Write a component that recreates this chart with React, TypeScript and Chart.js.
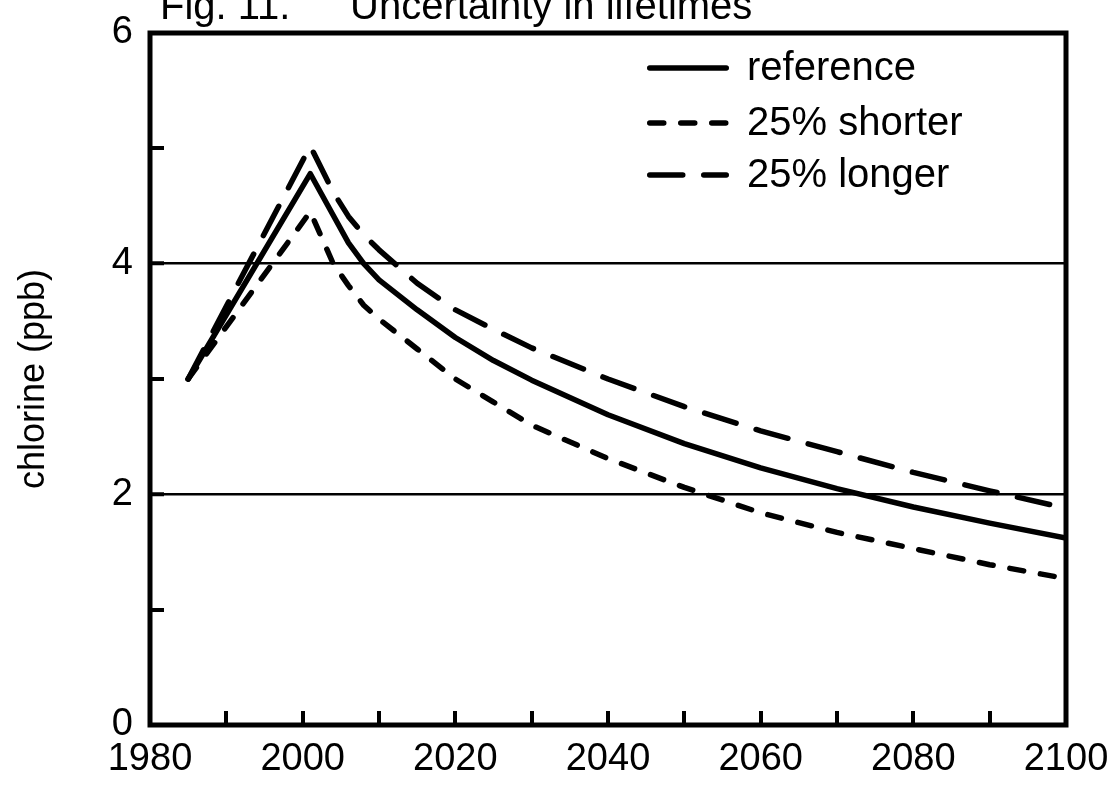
import React, { useEffect, useRef } from 'react';
import { Chart, registerables } from 'chart.js';

Chart.register(...registerables);

// ---- data ----
const YEARS = [1985, 2001, 2004, 2006, 2008, 2010, 2015, 2020, 2025, 2030, 2040, 2050, 2060, 2070, 2080, 2090, 2100];
const REFERENCE = [3.0, 4.78, 4.42, 4.18, 4.0, 3.86, 3.6, 3.36, 3.16, 2.99, 2.69, 2.44, 2.23, 2.05, 1.89, 1.75, 1.62];
const SHORTER = [3.0, 4.45, 4.0, 3.81, 3.64, 3.52, 3.26, 3.0, 2.8, 2.6, 2.31, 2.06, 1.84, 1.67, 1.53, 1.39, 1.27];
const LONGER = [3.0, 5.02, 4.62, 4.41, 4.25, 4.12, 3.83, 3.6, 3.43, 3.27, 3.0, 2.76, 2.55, 2.37, 2.19, 2.03, 1.88];
const SERIES_NAMES = ['reference', '25% shorter', '25% longer'];
const TITLE_PARTS = ['Fig. 11.', 'Uncertainty in lifetimes'];
const Y_TITLE = 'chlorine (ppb)';
const X_MIN = 1980;
const X_MAX = 2100;
const X_STEP = 10;
const X_LABEL_EVERY = 20;
const Y_MIN = 0;
const Y_MAX = 6;
const Y_STEP = 1;
const Y_LABEL_EVERY = 2;
const GRID_VALUES = [2, 4];

const FONT = '"Liberation Sans", Arial, Helvetica, sans-serif';

const toPoints = (vals: number[]) => YEARS.map((x, i) => ({ x, y: vals[i] }));

const zeroPadding = (s: any) => {
  s.paddingLeft = 0;
  s.paddingRight = 0;
  s.paddingTop = 0;
  s.paddingBottom = 0;
};

const framePlugin = {
  id: 'frame',
  afterDatasetsDraw(chart: any) {
    const { ctx, chartArea: a } = chart;
    ctx.save();
    ctx.strokeStyle = '#000';
    ctx.lineWidth = 5;
    ctx.lineJoin = 'miter';
    ctx.strokeRect(a.left, a.top, a.right - a.left, a.bottom - a.top);
    ctx.restore();
  },
};

const titlePlugin = {
  id: 'cutTitle',
  afterDraw(chart: any, _args: any, opts: any) {
    const { ctx } = chart;
    ctx.save();
    ctx.fillStyle = '#000';
    ctx.font = `40px ${FONT}`;
    ctx.textBaseline = 'alphabetic';
    ctx.textAlign = 'left';
    ctx.fillText(TITLE_PARTS[0], opts.x0, opts.baseline);
    ctx.fillText(TITLE_PARTS[1], opts.x1, opts.baseline);
    ctx.restore();
  },
};

const legendPlugin = {
  id: 'insetLegend',
  afterDraw(chart: any, _args: any, opts: any) {
    const { ctx } = chart;
    chart.data.datasets.forEach((ds: any, i: number) => {
      const y = opts.rows[i];
      const lw = ds.borderWidth;
      ctx.save();
      ctx.strokeStyle = ds.borderColor;
      ctx.lineWidth = lw;
      ctx.lineCap = ds.borderCapStyle || 'butt';
      ctx.setLineDash(ds.borderDash || []);
      ctx.beginPath();
      ctx.moveTo(opts.x0 + lw / 2, y);
      ctx.lineTo(opts.x1 - lw / 2, y);
      ctx.stroke();
      ctx.setLineDash([]);
      ctx.fillStyle = '#000';
      ctx.font = `40px ${FONT}`;
      ctx.textBaseline = 'middle';
      ctx.textAlign = 'left';
      ctx.fillText(ds.label, opts.textX, y + 1);
      ctx.restore();
    });
  },
};

export default function App() {
  const ref = useRef<HTMLCanvasElement>(null);

  useEffect(() => {
    if (!ref.current) return;
    const isGrid = (c: any) => c && c.tick && GRID_VALUES.includes(c.tick.value);
    const common = {
      borderColor: '#000',
      borderWidth: 5.5,
      borderCapStyle: 'round',
      borderJoinStyle: 'round',
      pointRadius: 0,
      tension: 0,
      fill: false,
    };
    const chart = new Chart(ref.current, {
      type: 'line',
      data: {
        datasets: [
          { ...common, label: SERIES_NAMES[0], data: toPoints(REFERENCE) },
          { ...common, label: SERIES_NAMES[1], data: toPoints(SHORTER), borderDash: [14, 17] },
          { ...common, label: SERIES_NAMES[2], data: toPoints(LONGER), borderDash: [33, 21] },
        ] as any,
      },
      options: {
        animation: false,
        responsive: false,
        devicePixelRatio: 1,
        layout: { padding: { left: 0, right: 52, top: 33, bottom: 0 } },
        plugins: {
          legend: { display: false },
          tooltip: { enabled: false },
          title: { display: false },
          cutTitle: { x0: 160, x1: 350, baseline: 19 },
          insetLegend: { x0: 647, x1: 729, textX: 747, rows: [68, 123, 175] },
        } as any,
        scales: {
          x: {
            type: 'linear',
            min: X_MIN,
            max: X_MAX,
            afterFit: (s: any) => {
              s.height = 62;
              zeroPadding(s);
            },
            border: { display: false },
            grid: {
              drawOnChartArea: false,
              drawTicks: true,
              tickLength: -14,
              color: '#000',
              tickColor: '#000',
              lineWidth: 4,
              tickWidth: 4,
            },
            ticks: {
              stepSize: X_STEP,
              autoSkip: false,
              maxRotation: 0,
              minRotation: 0,
              padding: 26,
              color: '#000',
              font: { family: FONT, size: 38 },
              callback: (v: any) => (Number(v) % X_LABEL_EVERY === 0 ? String(v) : ''),
            },
          },
          y: {
            type: 'linear',
            min: Y_MIN,
            max: Y_MAX,
            afterFit: (s: any) => {
              s.width = 150;
              zeroPadding(s);
            },
            border: { display: false },
            grid: {
              drawOnChartArea: true,
              drawTicks: true,
              tickLength: -14,
              color: (c: any) => (isGrid(c) ? '#000' : 'rgba(0,0,0,0)'),
              lineWidth: (c: any) => (isGrid(c) ? 2.5 : 0),
              tickColor: '#000',
              tickWidth: 4,
            },
            ticks: {
              stepSize: Y_STEP,
              autoSkip: false,
              padding: 31,
              color: '#000',
              font: { family: FONT, size: 38 },
              callback: (v: any) => (Number(v) % Y_LABEL_EVERY === 0 ? String(v) : ''),
            },
            title: {
              display: true,
              text: Y_TITLE,
              color: '#000',
              font: { family: FONT, size: 36 },
              padding: { top: 12, bottom: 0 },
            },
          },
        },
      } as any,
      plugins: [framePlugin, titlePlugin, legendPlugin],
    });
    return () => chart.destroy();
  }, []);

  return (
    <div style={{ position: 'absolute', left: 0, top: 0, width: 1118, height: 787, background: '#fff' }}>
      <canvas ref={ref} width={1118} height={787} style={{ display: 'block', width: 1118, height: 787 }} />
    </div>
  );
}
